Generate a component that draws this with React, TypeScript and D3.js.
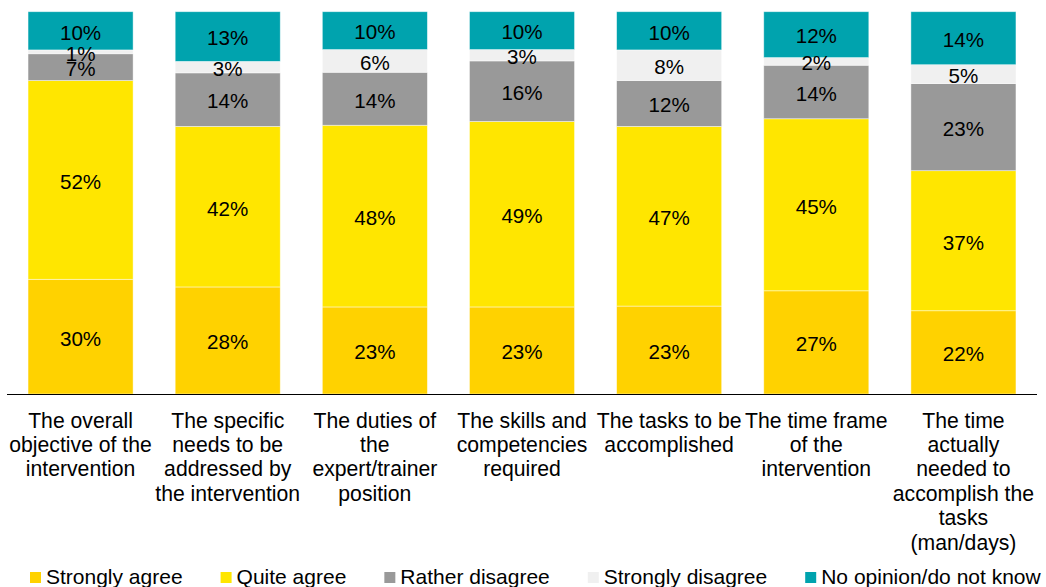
import React, { useEffect, useRef } from "react";
import * as d3 from "d3";

const categories = [
  "The overall\nobjective of the\nintervention",
  "The specific\nneeds to be\naddressed by\nthe intervention",
  "The duties of\nthe\nexpert/trainer\nposition",
  "The skills and\ncompetencies\nrequired",
  "The tasks to be\naccomplished",
  "The time frame\nof the\nintervention",
  "The time\nactually\nneeded to\naccomplish the\ntasks\n(man/days)",
];

const seriesNames = [
  "Strongly agree",
  "Quite agree",
  "Rather disagree",
  "Strongly disagree",
  "No opinion/do not know",
];

const stronglyAgree = [30, 28, 23, 23, 23, 27, 22];
const quiteAgree = [52, 42, 48, 49, 47, 45, 37];
const ratherDisagree = [7, 14, 14, 16, 12, 14, 23];
const stronglyDisagree = [1, 3, 6, 3, 8, 2, 5];
const noOpinion = [10, 13, 10, 10, 10, 12, 14];

const colors = ["#FFD200", "#FFE600", "#999999", "#F0F0F0", "#00A3AE"];

const W = 1046;
const H = 587;
const FONT = "'Liberation Sans', Arial, sans-serif";
const FS_AXIS = 21.2;
const FS_BAR = 20.6;
const FS_LEG = 21;

export default function App() {
  const ref = useRef<SVGSVGElement>(null);

  useEffect(() => {
    const svg = d3.select(ref.current);
    svg.selectAll("*").remove();

    const seriesValues = [stronglyAgree, quiteAgree, ratherDisagree, stronglyDisagree, noOpinion];
    const rows = categories.map((c, i) => {
      const r: any = { cat: c };
      seriesNames.forEach((s, k) => (r[s] = seriesValues[k][i]));
      return r;
    });

    const stack = d3.stack<any>().keys(seriesNames).offset(d3.stackOffsetExpand);
    const stacked = stack(rows);

    const x = d3.scaleBand<string>().domain(categories).range([7, 1037]).paddingInner(0.286).paddingOuter(0.143);
    const y = d3.scaleLinear().domain([0, 1]).range([394, 11.7]);

    const g = svg.append("g");
    stacked.forEach((layer, k) => {
      g.append("g")
        .selectAll("rect")
        .data(layer)
        .join("rect")
        .attr("x", (d: any) => x(d.data.cat)!)
        .attr("width", x.bandwidth())
        .attr("y", (d: any) => y(d[1]))
        .attr("height", (d: any) => y(d[0]) - y(d[1]))
        .attr("fill", colors[k])
        .attr("stroke", "rgba(255,255,255,0.55)")
        .attr("stroke-width", 0.8);
    });

    stacked.forEach((layer, k) => {
      g.append("g")
        .selectAll("text")
        .data(layer)
        .join("text")
        .attr("x", (d: any) => x(d.data.cat)! + x.bandwidth() / 2)
        .attr("y", (d: any) => (y(d[0]) + y(d[1])) / 2)
        .attr("dy", "0.43em")
        .attr("text-anchor", "middle")
        .attr("font-family", FONT)
        .attr("font-size", FS_BAR)
        .attr("fill", "#000")
        .text((d: any) => `${d.data[seriesNames[k]]}%`);
    });

    // axis line
    svg.append("line")
      .attr("x1", 7).attr("x2", 1037)
      .attr("y1", 394.5).attr("y2", 394.5)
      .attr("stroke", "#000").attr("stroke-width", 1);

    // category labels
    const lab = svg.append("g");
    categories.forEach((c) => {
      const t = lab.append("text")
        .attr("text-anchor", "middle")
        .attr("font-family", FONT)
        .attr("font-size", FS_AXIS)
        .attr("fill", "#000");
      c.split("\n").forEach((line, li) => {
        t.append("tspan")
          .attr("x", x(c)! + x.bandwidth() / 2)
          .attr("y", 427.5 + li * 24.4)
          .text(line);
      });
    });

    // legend
    const leg = svg.append("g");
    let lx = 30;
    seriesNames.forEach((s, k) => {
      leg.append("rect")
        .attr("x", lx).attr("y", 572)
        .attr("width", 11).attr("height", 11)
        .attr("fill", colors[k]);
      const t = leg.append("text")
        .attr("x", lx + 16).attr("y", 583.5)
        .attr("font-family", FONT)
        .attr("font-size", FS_LEG)
        .attr("fill", "#000")
        .text(s);
      const w = (t.node() as SVGTextElement).getComputedTextLength();
      lx = lx + 16 + w + 38;
    });
  }, []);

  return (
    <svg
      ref={ref}
      width={W}
      height={H}
      style={{ position: "absolute", left: 0, top: 0, background: "#fff" }}
    />
  );
}
